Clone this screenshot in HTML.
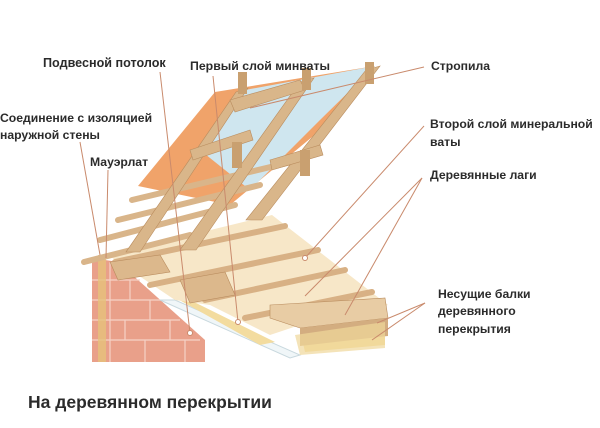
<!DOCTYPE html>
<html><head><meta charset="utf-8"><style>
html,body{margin:0;padding:0;background:#fff;}
svg{display:block}
text{font-family:"Liberation Sans","DejaVu Sans",sans-serif;font-weight:bold;fill:#2b2b2b;font-size:12.2px}
</style></head><body>
<svg width="600" height="428" viewBox="0 0 600 428" xmlns="http://www.w3.org/2000/svg">
<polygon points="92,258 118,262 205,340 205,362 92,362" fill="#e9a08a"/>
<g stroke="#f6d2c6" stroke-width="1.2">
<line x1="92" y1="280" x2="140" y2="280"/><line x1="92" y1="300" x2="160" y2="300"/>
<line x1="92" y1="320" x2="180" y2="320"/><line x1="92" y1="340" x2="200" y2="340"/>
<line x1="110" y1="262" x2="110" y2="362"/><line x1="130" y1="280" x2="130" y2="300"/>
<line x1="150" y1="300" x2="150" y2="320"/><line x1="125" y1="320" x2="125" y2="340"/>
<line x1="170" y1="320" x2="170" y2="340"/><line x1="145" y1="340" x2="145" y2="362"/>
<line x1="185" y1="340" x2="185" y2="362"/>
</g>
<rect x="98" y="255" width="8" height="107" fill="#e6c27a" opacity="0.8"/>
<polygon points="160,300 175,300 300,355 290,358" fill="#f0f6f8" stroke="#c8d8de"/>
<polygon points="165,292 190,300 275,342 260,345" fill="#f3dc9f"/>
<polygon points="300,330 385,318 385,345 305,352" fill="#f3dc9f"/>
<polygon points="108,255 272,215 388,305 300,325 270,335 210,305 175,300" fill="#f7e7c8"/>
<g stroke="#d8b185" stroke-width="6" stroke-linecap="round">
<line x1="115" y1="262" x2="285" y2="226"/>
<line x1="150" y1="285" x2="318" y2="250"/>
<line x1="205" y1="300" x2="345" y2="270"/>
<line x1="245" y1="318" x2="372" y2="292"/>
</g>
<polygon points="110,262 160,255 170,272 118,280" fill="#dcb88c" stroke="#b98c5e" stroke-width="0.6"/>
<polygon points="180,280 225,272 235,295 190,303" fill="#dcb88c" stroke="#b98c5e" stroke-width="0.6"/>
<polygon points="270,305 385,298 388,318 300,328 270,318" fill="#e8cca4" stroke="#b98c5e" stroke-width="0.6"/>
<polygon points="300,328 388,318 388,336 300,346" fill="#d3ad80"/>
<polygon points="295,335 385,322 385,348 300,355" fill="#f0d79a" opacity="0.7"/>
<polygon points="138,186 215,92 375,66 335,118 230,205" fill="#f0a36a"/>
<polygon points="200,150 245,90 375,66 320,120 250,190" fill="#cfe6ef"/>
<g stroke="#d9b58a" stroke-width="6" stroke-linecap="round">
<line x1="84" y1="262" x2="190" y2="235"/>
<line x1="100" y1="240" x2="235" y2="205"/>
<line x1="118" y1="220" x2="260" y2="185"/>
<line x1="132" y1="200" x2="300" y2="160"/>
</g>
<g fill="#d9b68a" stroke="#b98c5e" stroke-width="0.6">
<polygon points="236,92 248,88 140,252 126,252"/>
<polygon points="300,82 314,78 196,250 180,250"/>
<polygon points="366,70 380,66 262,220 246,220"/>
<polygon points="230,100 300,80 305,90 235,112"/>
<polygon points="270,160 320,145 323,155 272,170"/>
<polygon points="190,150 250,130 253,140 193,160"/>
</g>
<g fill="#c9a070"><rect x="238" y="72" width="9" height="22"/><rect x="302" y="68" width="9" height="22"/><rect x="365" y="62" width="9" height="22"/>
<rect x="300" y="150" width="10" height="26"/><rect x="232" y="142" width="10" height="26"/></g>
<g stroke="#c98a6c" stroke-width="1" fill="none">
<line x1="160" y1="72" x2="190" y2="333"/>
<line x1="213" y1="76" x2="238" y2="322"/>
<line x1="424" y1="67" x2="250" y2="108"/>
<line x1="424" y1="126" x2="305" y2="258"/>
<line x1="422" y1="178" x2="305" y2="296"/>
<line x1="422" y1="178" x2="345" y2="315"/>
<line x1="425" y1="303" x2="377" y2="323"/>
<line x1="425" y1="303" x2="372" y2="340"/>
<line x1="80" y1="142" x2="100" y2="255"/>
<line x1="108" y1="170" x2="106" y2="258"/>
</g>
<g fill="#fff" stroke="#c98a6c"><circle cx="190" cy="333" r="2.5"/><circle cx="238" cy="322" r="2.5"/><circle cx="305" cy="258" r="2.5"/></g>
<text x="43" y="67" style="font-size:12.6px">Подвесной потолок</text>
<text x="190" y="70" style="font-size:12.3px">Первый слой минваты</text>
<text x="431" y="70">Стропила</text>
<text x="0" y="122">Соединение с изоляцией</text>
<text x="0" y="139">наружной стены</text>
<text x="90" y="166">Мауэрлат</text>
<text x="430" y="128">Второй слой минеральной</text>
<text x="430" y="146">ваты</text>
<text x="430" y="179">Деревянные лаги</text>
<text x="438" y="298">Несущие балки</text>
<text x="438" y="315">деревянного</text>
<text x="438" y="333">перекрытия</text>
<text x="28" y="408" style="font-size:17.5px">На деревянном перекрытии</text>
</svg>
</body></html>
